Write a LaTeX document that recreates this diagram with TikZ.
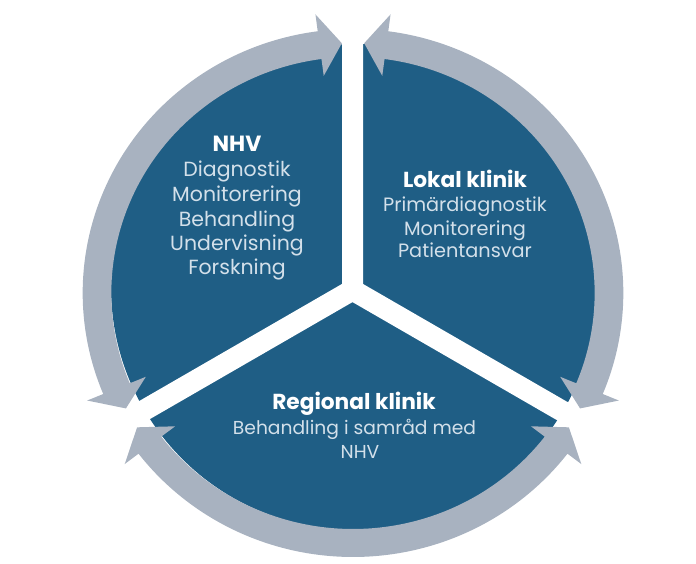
\documentclass[tikz,border=0pt]{standalone}
\usepackage{fontspec}
\setmainfont{Poppins}
\usetikzlibrary{calc}
\definecolor{discblue}{HTML}{1F5E85}
\definecolor{ringgrey}{HTML}{A8B2C0}
\definecolor{lighttext}{HTML}{D3E0EA}
\tikzset{
  disc/.style={fill=discblue, draw=none},
  gap/.style={fill=white, draw=none},
  ringarrow/.style={fill=ringgrey, draw=none},
  line/.style={anchor=base, inner sep=0pt, text=lighttext},
  titleline/.style={anchor=base, inner sep=0pt, text=white, font=\fontsize{21.7}{21.7}\selectfont\bfseries}
}
\newcommand{\dblarrow}[2]{%
  \pgfmathsetmacro{\aA}{#1}%
  \pgfmathsetmacro{\aB}{#2}%
  \pgfmathsetmacro{\hA}{#1+5}%
  \pgfmathsetmacro{\hB}{#2-5}%
  \fill[ringarrow] (\aA:250) -- (\hA:281) -- (\hA:264)
    arc[start angle=\hA, end angle=\hB, radius=264]
    -- (\hB:281) -- (\aB:250) -- (\hB:219) -- (\hB:236)
    arc[start angle=\hB, end angle=\hA, radius=236]
    -- (\hA:219) -- cycle;
}
\begin{document}
\begin{tikzpicture}[x=1pt,y=1pt]
\useasboundingbox (0,0) rectangle (696,564);
% disc
\coordinate (D) at (354,277);
\fill[disc] (D) circle[radius=243];
% white Y gap
\coordinate (C) at (352.5,274);
\fill[gap] ($(C)+(30:12.12)$) -- ($(C)+(90:300)+(0:10.5)$) -- ($(C)+(90:300)+(180:10.5)$)
  -- ($(C)+(150:12.12)$) -- ($(C)+(210:300)+(120:10.5)$) -- ($(C)+(210:300)+(300:10.5)$)
  -- ($(C)+(270:12.12)$) -- ($(C)+(330:300)+(240:10.5)$) -- ($(C)+(330:300)+(60:10.5)$)
  -- cycle;
% arrows
\begin{scope}[shift={(353,271)}, xscale=1.024]
  \dblarrow{92.5}{207.5}
  \dblarrow{-27.5}{87.5}
  \dblarrow{212.5}{327.5}
\end{scope}
% NHV block
\begin{scope}[every node/.append style={font=\fontsize{20.5}{20.5}\selectfont}]
\node[titleline, font=\fontsize{22}{22}\selectfont\bfseries] (n0) at (237,412) {NHV};
\node[line] (n1) at (237,387) {Diagnostik};
\node[line] (n2) at (237,362) {Monitorering};
\node[line] (n3) at (237,337) {Behandling};
\node[line] (n4) at (237,313) {Undervisning};
\node[line] (n5) at (237,289) {Forskning};
\end{scope}
% Lokal klinik block
\begin{scope}[every node/.append style={font=\fontsize{19.3}{19.3}\selectfont}]
\node[titleline] (l0) at (465,376) {Lokal klinik};
\node[line] (l1) at (465,352) {Primärdiagnostik};
\node[line] (l2) at (465,328) {Monitorering};
\node[line] (l3) at (465,306) {Patientansvar};
\end{scope}
% Regional klinik block
\begin{scope}[every node/.append style={font=\fontsize{18.7}{18.7}\selectfont}]
\node[titleline] (r0) at (354,154) {Regional klinik};
\node[line] (r1) at (354.5,129) {Behandling i samråd med};
\node[line] (r2) at (360,105) {NHV};
\end{scope}
\end{tikzpicture}
\end{document}
